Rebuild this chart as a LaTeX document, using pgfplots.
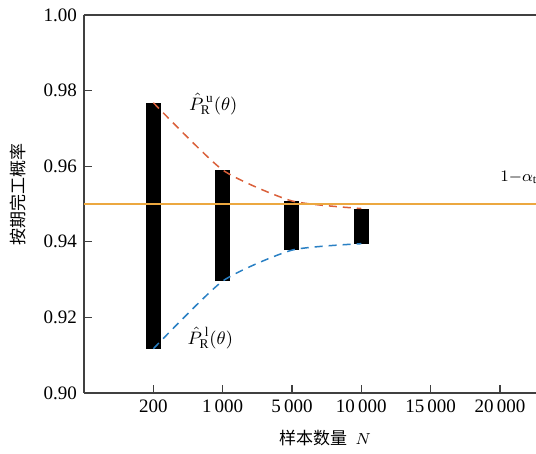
\documentclass[border=0pt]{standalone}
\usepackage{fontspec}
\setmainfont{Liberation Serif}
\newfontfamily\cjk{Noto Sans CJK SC}
\usepackage{pgfplots}
\pgfplotsset{compat=1.18}
\definecolor{ured}{RGB}{218,96,58}
\definecolor{lblue}{RGB}{42,128,196}
\definecolor{horange}{RGB}{236,168,64}
\begin{document}
\begin{tikzpicture}
\useasboundingbox (-42pt,-30.5pt) rectangle (226pt,196.5pt);
\begin{axis}[at={(0,0)}, anchor=south west, scale only axis,
  width=226pt, height=189pt,
  xmin=0, xmax=6.52, ymin=0.9, ymax=1.0,
  axis x line=box, axis y line=left,
  axis line style={-, black!75, line width=0.6pt},
  xtick={1,2,3,4,5,6},
  xticklabels={200, {1\,000}, {5\,000}, {10\,000}, {15\,000}, {20\,000}},
  ytick={0.90,0.92,0.94,0.96,0.98,1.00},
  yticklabel style={/pgf/number format/.cd, fixed, fixed zerofill, precision=2, assume math mode=true},
  tick label style={font=\fontsize{9.5}{11}\selectfont},
  tick align=inside, major tick length=4pt,
  tick style={black!75, line width=0.6pt},
  xtick pos=left, ytick pos=left,
  xlabel={{\cjk 样本数量}\ \ $N$},
  ylabel={\cjk 按期完工概率},
  label style={font=\fontsize{8.5}{10}\selectfont},
  xlabel style={at={(axis description cs:0.533,-0.119)}, anchor=center},
  ylabel style={at={(axis description cs:-0.146,0.526)}, anchor=center},
  clip=false,
]
\addplot[draw=none, mark=none, forget plot,
  error bars/.cd, y dir=plus, y explicit, error mark=none,
  error bar style={line width=7.5pt, black, line cap=butt}]
  table[x=x, y=lo, y error=h] {
x lo h
1 0.9117 0.0651
2 0.9296 0.0294
3 0.9378 0.0130
4 0.9395 0.0093
};
\addplot[ured, line width=0.75pt, dash pattern=on 4pt off 3pt, smooth, tension=0.35, mark=none]
  coordinates {(1,0.9768) (2,0.9590) (3,0.9508) (4,0.9488)};
\addplot[lblue, line width=0.75pt, dash pattern=on 4pt off 3pt, smooth, tension=0.35, mark=none]
  coordinates {(1,0.9117) (2,0.9296) (3,0.9378) (4,0.9395)};
\addplot[horange, line width=0.8pt, mark=none]
  coordinates {(0,0.95) (6.52,0.95)};
\node[anchor=west, font=\fontsize{9.5}{11}\selectfont, inner sep=0pt] at (axis cs:1.51,0.9764) {$\hat{P}^{\,\mathrm{u}}_{\mathrm{R}}(\theta)$};
\node[anchor=west, font=\fontsize{9.5}{11}\selectfont, inner sep=0pt] at (axis cs:1.49,0.9145) {$\hat{P}^{\,\mathrm{l}}_{\mathrm{R}}(\theta)$};
\node[anchor=west, font=\fontsize{8.5}{10}\selectfont, inner sep=0pt] at (axis cs:6.0,0.9571) {$1{-}\alpha_{\mathrm{t}}$};
\end{axis}
\end{tikzpicture}
\end{document}
